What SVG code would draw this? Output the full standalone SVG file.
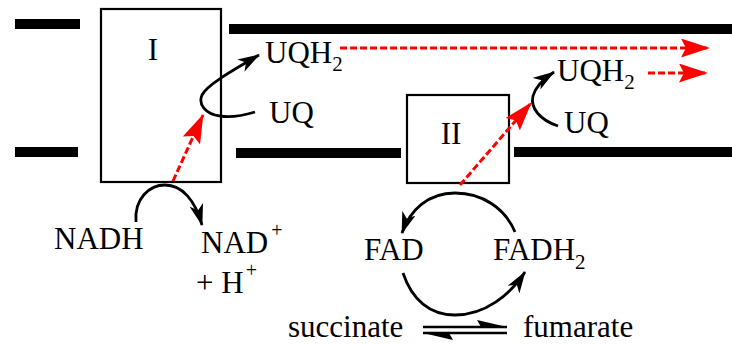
<svg xmlns="http://www.w3.org/2000/svg" width="732" height="345" viewBox="0 0 732 345">
<style>
text{font-family:"Liberation Serif","Times New Roman",serif;font-size:31px;fill:#000}
.sub{font-size:21px}
.sup{font-size:20px}
.bar{fill:#000}
.box{fill:#fff;stroke:#000;stroke-width:2.2}
.blk{fill:none;stroke:#000;stroke-width:2.8;marker-end:url(#ab)}
.red{fill:none;stroke:#ff0000;stroke-width:3;stroke-dasharray:7 3;marker-end:url(#ar)}
.eq{stroke:#000;stroke-width:2.6}
</style>
<defs>
<marker id="ab" viewBox="0 0 22 14" refX="21" refY="7" markerWidth="22" markerHeight="14" markerUnits="userSpaceOnUse" orient="auto">
<path d="M0,0 L22,7 L0,14 L6,7 z" fill="#000"/>
</marker>
<marker id="ar" viewBox="0 0 29 19" refX="28" refY="9.5" markerWidth="29" markerHeight="19" markerUnits="userSpaceOnUse" orient="auto">
<path d="M0,0 L29,9.5 L0,19 L5,9.5 z" fill="#ff0000"/>
</marker>
</defs>
<g id="membrane">
<rect class="bar" x="15" y="19" width="65" height="10"/>
<rect class="bar" x="229" y="24" width="503" height="10"/>
<rect class="bar" x="15" y="147" width="63" height="10"/>
<rect class="bar" x="236" y="148" width="165" height="10"/>
<rect class="bar" x="514" y="147" width="218" height="10"/>
</g>
<g id="complexI">
<rect class="box" x="101" y="9" width="120" height="173"/>
<text x="153" y="60" text-anchor="middle">I</text>
</g>
<g id="complexII">
<rect class="box" x="407" y="95" width="102" height="88"/>
<text x="451" y="144" text-anchor="middle">II</text>
</g>
<g id="uqh2-top"><text x="265" y="63">UQH<tspan class="sub" dy="8">2</tspan></text></g>
<g id="uq-left"><text x="269" y="123">UQ</text></g>
<g id="uqh2-right"><text x="557" y="81">UQH<tspan class="sub" dy="8">2</tspan></text></g>
<g id="uq-right"><text x="564" y="133">UQ</text></g>
<g id="nadh"><text x="54" y="249">NADH</text></g>
<g id="nad"><text x="201" y="253">NAD<tspan class="sup" dx="3" dy="-16">+</tspan></text>
<text x="196" y="293">+ H<tspan class="sup" dx="2" dy="-16">+</tspan></text></g>
<g id="fad"><text x="364" y="260">FAD</text></g>
<g id="fadh2"><text x="493" y="260">FADH<tspan class="sub" dy="9">2</tspan></text></g>
<g id="succinate"><text x="288" y="337">succinate</text></g>
<g id="fumarate"><text x="523" y="337">fumarate</text></g>
<g id="connectors">
<path class="red" d="M173,181 L203,115"/>
<path class="red" d="M340,48 L709,48"/>
<path class="red" d="M648,73 L707,73"/>
<path class="red" d="M460,185 L531,103"/>
<path class="blk" d="M255,112 C245,115 232,118 220,116 C205,114 198,104 202,95 C207,85 230,72 259,55"/>
<path class="blk" d="M558,126 C540,120 530,108 533,96 C535,88 542,80 554,72"/>
<path class="blk" d="M136,222 C134,198 150,185 165,185 C182,185 195,200 202,225"/>
<path class="blk" d="M515,232 C505,208 482,193 455,193 C428,193 410,210 402,233"/>
<path class="blk" d="M403,273 C412,300 430,315 455,315 C485,315 510,295 525,272"/>
<line class="eq" x1="423" y1="327" x2="507" y2="327"/>
<path d="M507,327 L477,320 L481,327 z" fill="#000"/>
<line class="eq" x1="423" y1="333" x2="507" y2="333"/>
<path d="M423,333 L453,340 L449,333 z" fill="#000"/>
</g>
</svg>
